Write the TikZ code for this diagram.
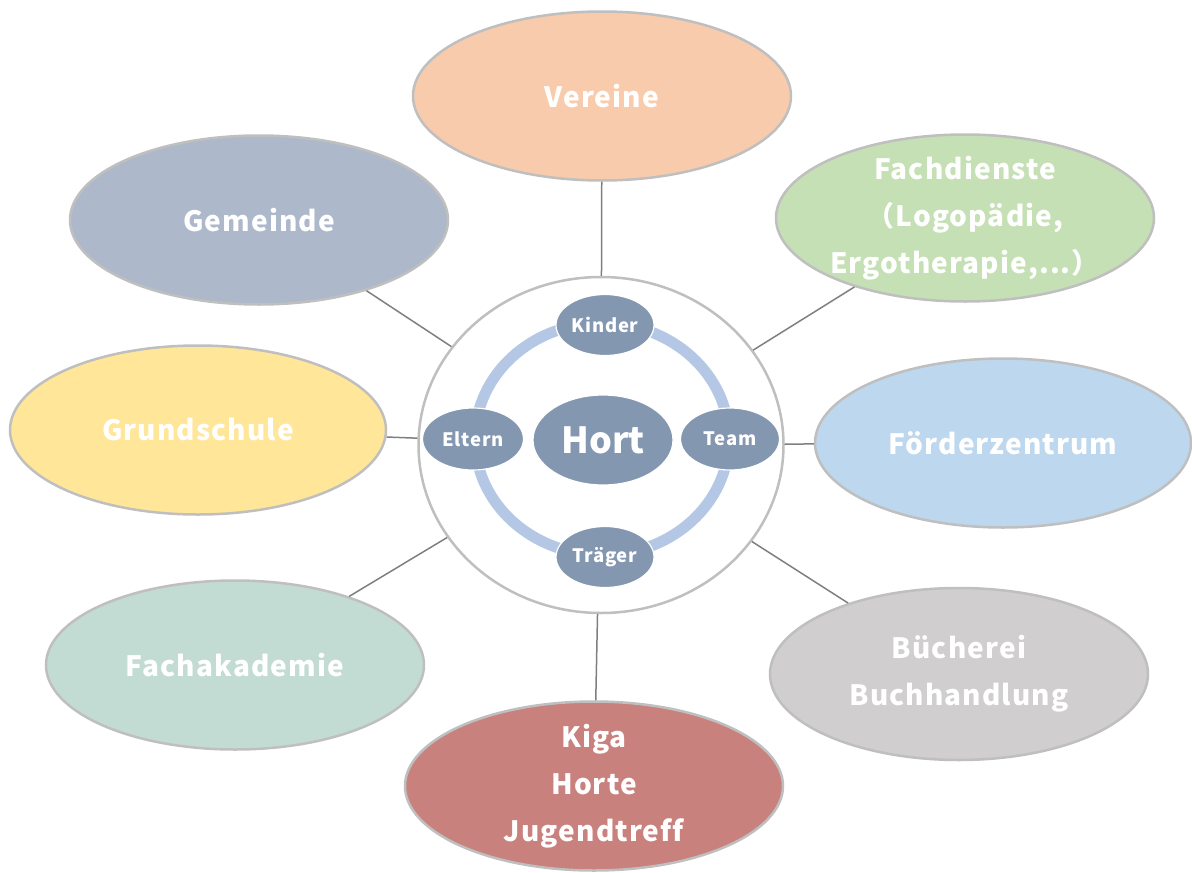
\documentclass[tikz,border=0pt]{standalone}
\usepackage{fontspec}
\setmainfont{Noto Sans CJK JP}[Ligatures=NoCommon]
\usetikzlibrary{shapes.geometric}
\definecolor{cVer}{HTML}{F8CBAD}
\definecolor{cGem}{HTML}{ADB9CA}
\definecolor{cFach}{HTML}{C5E0B4}
\definecolor{cGrund}{HTML}{FFE699}
\definecolor{cFoe}{HTML}{BDD7EE}
\definecolor{cAka}{HTML}{C3DCD3}
\definecolor{cBue}{HTML}{D0CECE}
\definecolor{cKiga}{HTML}{C9817D}
\definecolor{cInner}{HTML}{8497B0}
\definecolor{cRing}{HTML}{B4C8E6}
\definecolor{cBorder}{HTML}{BFBFBF}
\definecolor{cLine}{HTML}{7F7F7F}
\tikzset{
  outer/.style={ellipse, draw=cBorder, line width=2.5pt, inner sep=-40pt,
    minimum width=378pt, minimum height=169pt, text=white, align=center,
    font=\bfseries\addfontfeatures{LetterSpace=4}\fontsize{28}{47}\selectfont},
  inner/.style={ellipse, draw=white, line width=1.2pt, fill=cInner, inner sep=0pt,
    text=white, font=\bfseries\addfontfeatures{LetterSpace=4}\fontsize{18.5}{20}\selectfont},
  link/.style={draw=cLine, line width=1.5pt}
}
\begin{document}
\begin{tikzpicture}[x=1pt,y=-1pt]
\useasboundingbox (0,0) rectangle (1192,873);
% hub
\node[ellipse, draw=cBorder, line width=2.5pt, fill=white, minimum width=365pt, minimum height=336pt, inner sep=0pt] (hub) at (601,445) {};
\draw[cRing, line width=11pt] (602,439) ellipse [x radius=127, y radius=116];
\node[inner, minimum width=140pt, minimum height=90pt, font=\bfseries\fontsize{36}{40}\selectfont] (hort) at (603,440) {Hort};
\node[inner, minimum width=98pt, minimum height=61pt] (kinder) at (605,325) {Kinder};
\node[inner, minimum width=101pt, minimum height=62pt] (eltern) at (473,439) {Eltern};
\node[inner, minimum width=99pt, minimum height=62pt] (team) at (730,439) {Team};
\node[inner, minimum width=98pt, minimum height=61pt] (traeger) at (605,557) {Träger};
% outer
\node[outer, fill=cVer] (vereine) at (602,96) {Vereine};
\node[outer, fill=cGem] (gemeinde) at (259,220) {Gemeinde};
\node[outer, fill=cFach, minimum height=167pt] (fach) at (965,218) {Fachdienste\\（Logopädie,\\Ergotherapie,...）};
\node[outer, fill=cGrund, minimum width=376pt] (grund) at (198,430) {Grundschule};
\node[outer, fill=cFoe, minimum width=376pt] (foerder) at (1003,443) {Förderzentrum};
\node[outer, fill=cAka] (aka) at (235,665) {Fachakademie};
\node[outer, fill=cBue, minimum height=172pt] (buech) at (959,674) {Bücherei\\Buchhandlung};
\node[outer, fill=cKiga] (kiga) at (594,786) {Kiga\\Horte\\Jugendtreff};
% links
\foreach \n in {vereine,gemeinde,fach,grund,foerder,aka,buech,kiga}
  \draw[link] (\n) -- (hub);
\end{tikzpicture}
\end{document}
